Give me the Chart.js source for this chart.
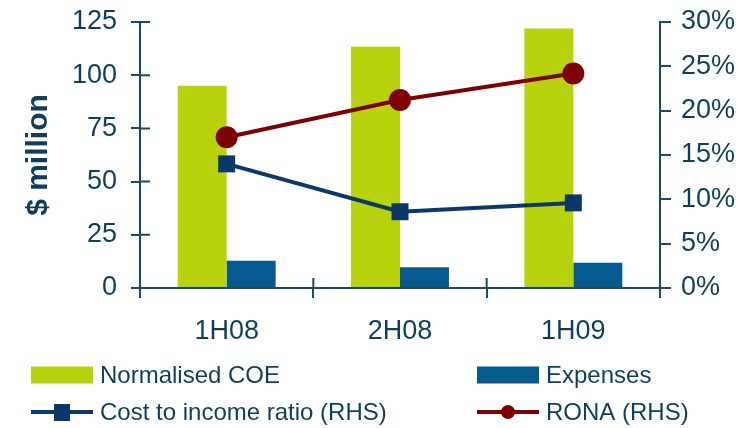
<!DOCTYPE html>
<html>
<head>
<meta charset="utf-8">
<script src="https://cdn.jsdelivr.net/npm/chart.js@4/dist/chart.umd.min.js"></script>
<style>
  html, body { margin: 0; padding: 0; background: #fff; }
  #wrap { width: 756px; height: 428px; }
</style>
</head>
<body>
<div id="wrap"><canvas id="grafico" width="756" height="428"></canvas></div>
<script>
// Periods and series
const periods = ['1H08', '2H08', '1H09'];
const normalisedCOE = [95, 113.4, 122];
const expenses = [12.8, 9.7, 11.9];
const costToIncome = [14, 8.6, 9.6];   // % (RHS)
const rona = [17, 21.2, 24.2];         // % (RHS)

const leftTicks = { min: 0, max: 125, step: 25 };
const rightTicks = { min: 0, max: 30, step: 5 };

const TEXT = '#0f3e5c';
const AXIS = '#1b4a66';
const FONT = "'Liberation Sans', Arial, sans-serif";

// Short inward tick marks on the left axis and the category axis
const innerTicks = {
  id: 'innerTicks',
  afterDraw(chart) {
    const ctx = chart.ctx;
    const y = chart.scales.y;
    const x = chart.scales.x;
    ctx.save();
    ctx.strokeStyle = AXIS;
    ctx.lineWidth = 2;
    ctx.beginPath();
    y.ticks.forEach((t, i) => {
      const py = y.getPixelForTick(i);
      ctx.moveTo(y.right, py);
      ctx.lineTo(y.right + 10, py);
    });
    const n = x.ticks.length;
    for (let i = 0; i <= n; i++) {
      const px = x.left + i * (x.width / n);
      ctx.moveTo(px, x.top);
      ctx.lineTo(px, x.top - 10);
    }
    ctx.stroke();
    ctx.restore();
  }
};

// Two-column legend under the axis
const legendBelow = {
  id: 'legendBelow',
  afterDraw(chart) {
    const ctx = chart.ctx;
    const cols = [31, 477];
    const rows = [375, 412];
    ctx.save();
    ctx.font = '24px ' + FONT;
    ctx.textBaseline = 'middle';
    chart.data.datasets.forEach((ds, i) => {
      const x0 = cols[i % 2];
      const yc = rows[Math.floor(i / 2)];
      if (ds.type === 'line') {
        ctx.strokeStyle = ds.borderColor;
        ctx.lineWidth = 4;
        ctx.beginPath();
        ctx.moveTo(x0, yc);
        ctx.lineTo(x0 + 62, yc);
        ctx.stroke();
        ctx.fillStyle = ds.pointBackgroundColor;
        if (ds.pointStyle === 'rect') {
          ctx.fillRect(x0 + 23, yc - 8, 16, 17);
        } else {
          ctx.beginPath();
          ctx.arc(x0 + 31, yc, 7, 0, Math.PI * 2);
          ctx.fill();
        }
      } else {
        ctx.fillStyle = ds.backgroundColor;
        ctx.fillRect(x0, yc - 8.5, 62, 17);
      }
      ctx.fillStyle = TEXT;
      ctx.fillText(ds.label, x0 + 69, yc + 1);
    });
    ctx.restore();
  }
};

// Fixed axis widths, no extra label overflow padding
function fixWidth(w) {
  return scale => {
    scale.width = w;
    scale.paddingTop = 0;
    scale.paddingBottom = 0;
  };
}

new Chart(document.getElementById('grafico').getContext('2d'), {
  type: 'bar',
  data: {
    labels: periods,
    datasets: [
      {
        label: 'Normalised COE',
        data: normalisedCOE,
        backgroundColor: '#b8d20e',
        yAxisID: 'y',
        order: 1
      },
      {
        label: 'Expenses',
        data: expenses,
        backgroundColor: '#065a8e',
        yAxisID: 'y',
        order: 1
      },
      {
        type: 'line',
        label: 'Cost to income ratio (RHS)',
        data: costToIncome,
        borderColor: '#0b3868',
        borderWidth: 4,
        pointStyle: 'rect',
        pointRadius: 12,
        pointBackgroundColor: '#0b3868',
        pointBorderColor: '#0b3868',
        pointBorderWidth: 0,
        tension: 0,
        yAxisID: 'y1',
        order: 0
      },
      {
        type: 'line',
        label: 'RONA (RHS)',
        data: rona,
        borderColor: '#7e0000',
        borderWidth: 4,
        pointStyle: 'circle',
        pointRadius: 11,
        pointBackgroundColor: '#7e0000',
        pointBorderColor: '#7e0000',
        pointBorderWidth: 0,
        tension: 0,
        yAxisID: 'y1',
        order: 0
      }
    ]
  },
  options: {
    responsive: false,
    animation: false,
    layout: { padding: { top: 22, left: 0, right: 0, bottom: 0 } },
    datasets: {
      bar: { barPercentage: 1, categoryPercentage: 0.565, borderWidth: 0 }
    },
    plugins: {
      legend: { display: false },
      tooltip: { enabled: false }
    },
    scales: {
      x: {
        offset: true,
        afterFit(scale) { scale.height = 140; },
        border: { display: true, color: AXIS, width: 2 },
        grid: {
          offset: true,
          drawOnChartArea: false,
          drawTicks: true,
          tickLength: 10,
          color: AXIS,
          lineWidth: 2
        },
        ticks: { color: TEXT, font: { family: FONT, size: 27 }, padding: 17, maxRotation: 0 }
      },
      y: {
        position: 'left',
        min: leftTicks.min,
        max: leftTicks.max,
        afterFit: fixWidth(140),
        border: { display: true, color: AXIS, width: 2 },
        grid: {
          drawOnChartArea: false,
          drawTicks: true,
          tickLength: 9,
          color: AXIS,
          lineWidth: 2
        },
        ticks: {
          stepSize: leftTicks.step,
          color: TEXT,
          font: { family: FONT, size: 27 },
          padding: 14
        },
        title: {
          display: true,
          text: '$ million',
          color: TEXT,
          font: { family: FONT, size: 30, weight: 'bold' },
          padding: { top: 21, bottom: 0 }
        }
      },
      y1: {
        position: 'right',
        min: rightTicks.min,
        max: rightTicks.max,
        afterFit: fixWidth(96),
        border: { display: true, color: AXIS, width: 2 },
        grid: {
          drawOnChartArea: false,
          drawTicks: true,
          tickLength: 11,
          color: AXIS,
          lineWidth: 2
        },
        ticks: {
          stepSize: rightTicks.step,
          color: TEXT,
          font: { family: FONT, size: 27 },
          padding: 10,
          callback: v => v + '%'
        }
      }
    }
  },
  plugins: [innerTicks, legendBelow]
});
</script>
</body>
</html>
